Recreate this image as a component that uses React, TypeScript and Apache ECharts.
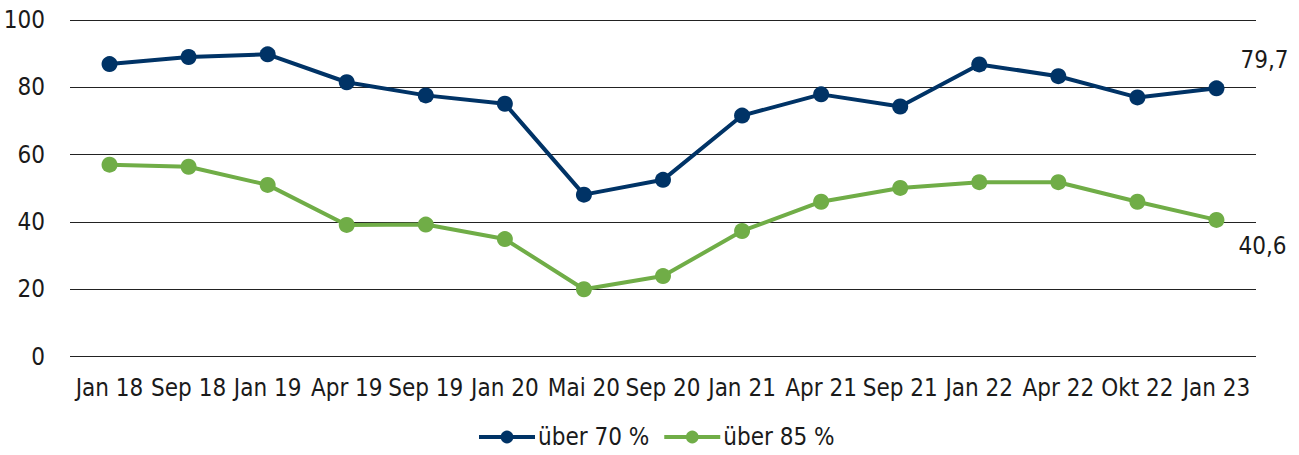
import React, { useEffect, useRef } from "react";
import * as echarts from "echarts";

const categories = ["Jan 18", "Sep 18", "Jan 19", "Apr 19", "Sep 19", "Jan 20", "Mai 20", "Sep 20", "Jan 21", "Apr 21", "Sep 21", "Jan 22", "Apr 22", "Okt 22", "Jan 23"];
const over70 = [86.9, 89.0, 89.8, 81.5, 77.6, 75.1, 48.1, 52.5, 71.6, 77.9, 74.3, 86.8, 83.3, 77.0, 79.7];
const over85 = [57.0, 56.4, 51.0, 39.1, 39.2, 34.9, 20.0, 23.9, 37.3, 46.0, 50.1, 51.8, 51.8, 46.0, 40.6];
const seriesNames = ["über 70 %", "über 85 %"];
const colors = ["#003366", "#70ad47"];

const FONT = "'Liberation Sans Narrow', 'DejaVu Sans Condensed', serif";
const FS = 24;

function withEndLabel(values: number[], pos: "top" | "bottom", offset: number[]) {
  return values.map((v, i) =>
    i === values.length - 1
      ? {
          value: v,
          label: {
            show: true,
            position: pos,
            offset,
            formatter: () => String(v).replace(".", ","),
            color: "#1a1a1a",
            fontSize: FS,
            fontFamily: FONT,
          },
        }
      : v
  );
}

export default function App() {
  const ref = useRef<HTMLDivElement>(null);
  useEffect(() => {
    if (!ref.current) return;
    const chart = echarts.init(ref.current, null, { renderer: "svg" });
    chart.setOption({
      animation: false,
      grid: { left: 70, right: 43, top: 20, bottom: 98.5, containLabel: false },
      legend: {
        bottom: 1,
        left: 472,
        itemWidth: 56,
        itemHeight: 16,
        itemGap: 13,
        lineStyle: { width: 4 },
        textStyle: { fontSize: FS, fontFamily: FONT, color: "#1a1a1a", padding: [0, 0, 0, -2] },
        data: seriesNames,
      },
      xAxis: {
        type: "category",
        data: categories,
        boundaryGap: true,
        axisLine: { show: false },
        axisTick: { show: false },
        axisLabel: { fontSize: FS, fontFamily: FONT, color: "#1a1a1a", margin: 19, interval: 0 },
      },
      yAxis: {
        type: "value",
        min: 0,
        max: 100,
        interval: 20,
        axisLine: { show: false },
        axisTick: { show: false },
        axisLabel: { fontSize: FS, fontFamily: FONT, color: "#1a1a1a", margin: 25 },
        splitLine: { lineStyle: { color: "#222", width: 1 } },
      },
      series: [
        {
          name: seriesNames[0],
          type: "line",
          data: withEndLabel(over70, "top", [48, -3]),
          color: colors[0],
          lineStyle: { width: 4, color: colors[0] },
          symbol: "circle",
          symbolSize: 16,
          itemStyle: { color: colors[0] },
        },
        {
          name: seriesNames[1],
          type: "line",
          data: withEndLabel(over85, "bottom", [46, 1]),
          color: colors[1],
          lineStyle: { width: 4, color: colors[1] },
          symbol: "circle",
          symbolSize: 16,
          itemStyle: { color: colors[1] },
        },
      ],
    });
    return () => chart.dispose();
  }, []);
  return <div ref={ref} style={{ width: 1299, height: 455, position: "absolute", left: 0, top: 0 }} />;
}
